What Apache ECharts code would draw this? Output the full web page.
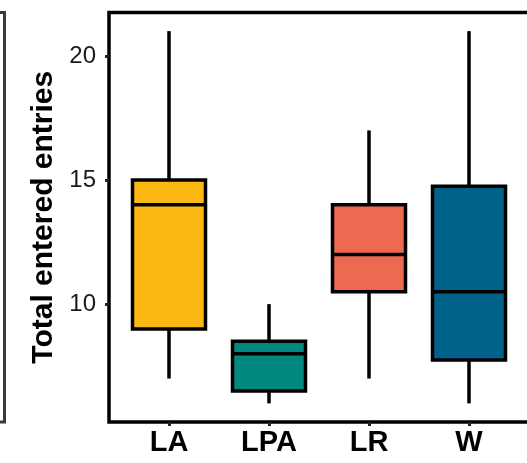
<!DOCTYPE html>
<html>
<head>
<meta charset="utf-8">
<script src="https://cdn.jsdelivr.net/npm/echarts@6/dist/echarts.min.js"></script>
<style>
html,body{margin:0;padding:0;background:#fff;}
#chart{width:527px;height:463px;}
</style>
</head>
<body>
<div id="chart"></div>
<script>
// Data
const categories = ['LA', 'LPA', 'LR', 'W'];
const whiskerLow = [7, 6, 7, 6];
const q1 = [9, 6.5, 10.5, 7.75];
const median = [14, 8, 12, 10.5];
const q3 = [15, 8.5, 14, 14.75];
const whiskerHigh = [21, 10, 17, 21];
const yTicks = [10, 15, 20];
const colors = ['#FDB813', '#00877F', '#EE6952', '#00628B'];
const yTitle = 'Total entered entries';

const seriesData = categories.map((c, i) => [i + 1, whiskerLow[i], q1[i], median[i], q3[i], whiskerHigh[i]]);
const xPositions = categories.map((c, i) => i + 1);

const chart = echarts.init(document.getElementById('chart'), null, {renderer: 'canvas'});
const FONT = 'Liberation Sans, Arial, sans-serif';
const LW = 3.5;

function renderItem(params, api) {
  const x = api.value(0);
  const pMin = api.coord([x, api.value(1)]);
  const pQ1 = api.coord([x, api.value(2)]);
  const pMed = api.coord([x, api.value(3)]);
  const pQ3 = api.coord([x, api.value(4)]);
  const pMax = api.coord([x, api.value(5)]);
  const halfW = api.size([1, 0])[0] * 0.365;
  const lineStyle = {stroke: '#000', lineWidth: LW, lineCap: 'butt'};
  return {
    type: 'group',
    children: [
      {type: 'line', shape: {x1: pMax[0], y1: pMax[1], x2: pQ3[0], y2: pQ3[1]}, style: lineStyle},
      {type: 'line', shape: {x1: pQ1[0], y1: pQ1[1], x2: pMin[0], y2: pMin[1]}, style: lineStyle},
      {type: 'rect', shape: {x: pQ3[0] - halfW, y: pQ3[1], width: 2 * halfW, height: pQ1[1] - pQ3[1]},
        style: {fill: colors[params.dataIndex], stroke: '#000', lineWidth: LW, lineJoin: 'miter'}},
      {type: 'line', shape: {x1: pMed[0] - halfW, y1: pMed[1], x2: pMed[0] + halfW, y2: pMed[1]}, style: lineStyle}
    ]
  };
}

chart.setOption({
  animation: false,
  backgroundColor: '#fff',
  grid: {
    left: 109, top: 12.5, width: 420, height: 409.5,
    outerBoundsMode: 'none', containLabel: false,
    show: true, borderColor: '#000', borderWidth: LW, backgroundColor: 'transparent'
  },
  xAxis: {
    type: 'value', min: 0.4, max: 4.6,
    axisLine: {show: false},
    splitLine: {show: false},
    axisTick: {show: true, customValues: xPositions, length: 4, lineStyle: {color: '#222', width: 3}},
    axisLabel: {
      customValues: xPositions,
      formatter: v => categories[Math.round(v) - 1],
      fontFamily: FONT, fontSize: 29, fontWeight: 'bold', color: '#000', margin: 6
    }
  },
  yAxis: {
    type: 'value', min: 5.25, max: 21.75,
    axisLine: {show: false},
    splitLine: {show: false},
    axisTick: {show: true, customValues: yTicks, length: 4, lineStyle: {color: '#222', width: 3}},
    axisLabel: {customValues: yTicks, fontFamily: FONT, fontSize: 24, color: '#1a1a1a', margin: 13},
    name: yTitle,
    nameLocation: 'middle',
    nameGap: 50,
    nameTextStyle: {fontFamily: FONT, fontSize: 30, fontWeight: 'bold', color: '#000'}
  },
  graphic: [
    {type: 'rect', z: 100, shape: {x: -30, y: 12.5, width: 34.5, height: 409.5},
      style: {fill: null, stroke: '#3a3a3a', lineWidth: 3}}
  ],
  series: [{
    type: 'custom',
    renderItem: renderItem,
    encode: {x: 0, y: [1, 2, 3, 4, 5]},
    data: seriesData
  }]
});
</script>
</body>
</html>
